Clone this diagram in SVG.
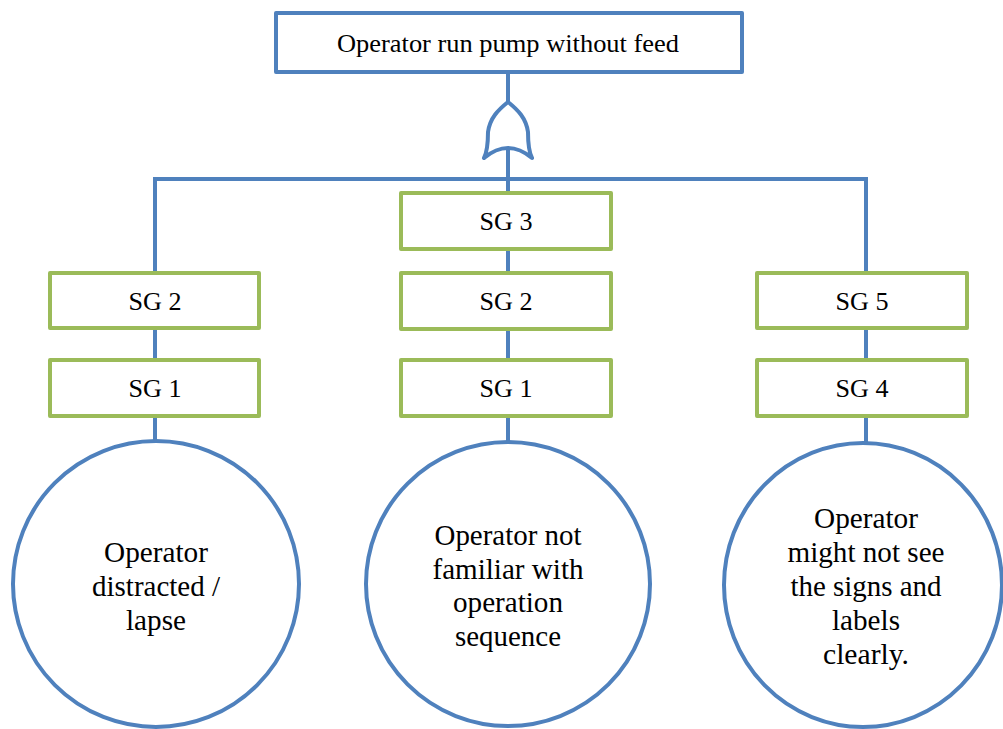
<svg xmlns="http://www.w3.org/2000/svg" width="1003" height="729" viewBox="0 0 1003 729">
<style>
.blue{fill:#fff;stroke:#4F81BD;stroke-width:4;stroke-linejoin:round}
.green{fill:#fff;stroke:#9BBB59;stroke-width:4;stroke-linejoin:round}
.line{fill:none;stroke:#4F81BD;stroke-width:4;stroke-linecap:butt}
.gate{fill:none;stroke:#4F81BD;stroke-width:4;stroke-linecap:round;stroke-linejoin:round}
text{font-family:'Liberation Serif','DejaVu Serif','Times New Roman',serif;text-anchor:middle;fill:#000}
.t26{font-size:26px}
.t29{font-size:29px}
</style>
<rect width="1003" height="729" fill="#fff"/>
<g id="connectors">
<line class="line" x1="508" y1="72" x2="508" y2="102"/>
<line class="line" x1="508" y1="148" x2="508" y2="193"/>
<polyline class="line" points="155,272 155,179 866,179 866,272"/>
<line class="line" x1="155" y1="328" x2="155" y2="359"/>
<line class="line" x1="155" y1="416" x2="155" y2="441"/>
<line class="line" x1="508" y1="250" x2="508" y2="272"/>
<line class="line" x1="508" y1="329" x2="508" y2="359"/>
<line class="line" x1="508" y1="417" x2="508" y2="442"/>
<line class="line" x1="866" y1="329" x2="866" y2="359"/>
<line class="line" x1="866" y1="416" x2="866" y2="442"/>
</g>
<g id="top">
<rect class="blue" x="276" y="13" width="466" height="59"/>
<text class="t26" x="508" y="52" textLength="342" lengthAdjust="spacingAndGlyphs">Operator run pump without feed</text>
</g>
<g id="or-gate">
<path class="gate" d="M484,158 C487,152 488,142 488,132 C490,118 498,110 508,102 C518,110 526,118 528,132 C528,142 529,152 532,158 Q508,138 484,158"/>
</g>
<g id="left-sg2">
<rect class="green" x="50" y="273" width="209" height="55"/>
<text class="t26" x="155" y="310" textLength="53" lengthAdjust="spacingAndGlyphs">SG 2</text>
</g>
<g id="left-sg1">
<rect class="green" x="50" y="360" width="209" height="56"/>
<text class="t26" x="155" y="397" textLength="53" lengthAdjust="spacingAndGlyphs">SG 1</text>
</g>
<g id="mid-sg3">
<rect class="green" x="401" y="193" width="210" height="56"/>
<text class="t26" x="506" y="230" textLength="53" lengthAdjust="spacingAndGlyphs">SG 3</text>
</g>
<g id="mid-sg2">
<rect class="green" x="401" y="273" width="210" height="56"/>
<text class="t26" x="506" y="310" textLength="53" lengthAdjust="spacingAndGlyphs">SG 2</text>
</g>
<g id="mid-sg1">
<rect class="green" x="401" y="360" width="210" height="56"/>
<text class="t26" x="506" y="397" textLength="53" lengthAdjust="spacingAndGlyphs">SG 1</text>
</g>
<g id="right-sg5">
<rect class="green" x="757" y="273" width="210" height="55"/>
<text class="t26" x="862" y="310" textLength="53" lengthAdjust="spacingAndGlyphs">SG 5</text>
</g>
<g id="right-sg4">
<rect class="green" x="757" y="360" width="210" height="56"/>
<text class="t26" x="862" y="397" textLength="53" lengthAdjust="spacingAndGlyphs">SG 4</text>
</g>
<g id="event-left">
<ellipse class="blue" cx="156" cy="584" rx="143" ry="143"/>
<text class="t29" x="156" y="562" textLength="104" lengthAdjust="spacingAndGlyphs">Operator</text>
<text class="t29" x="156" y="596" textLength="128" lengthAdjust="spacingAndGlyphs">distracted /</text>
<text class="t29" x="156" y="630" textLength="60" lengthAdjust="spacingAndGlyphs">lapse</text>
</g>
<g id="event-middle">
<ellipse class="blue" cx="508" cy="584" rx="142" ry="142"/>
<text class="t29" x="508" y="545" textLength="147" lengthAdjust="spacingAndGlyphs">Operator not</text>
<text class="t29" x="508" y="579" textLength="151" lengthAdjust="spacingAndGlyphs">familiar with</text>
<text class="t29" x="508" y="612" textLength="110" lengthAdjust="spacingAndGlyphs">operation</text>
<text class="t29" x="508" y="646" textLength="106" lengthAdjust="spacingAndGlyphs">sequence</text>
</g>
<g id="event-right">
<ellipse class="blue" cx="863" cy="585" rx="139" ry="142"/>
<text class="t29" x="866" y="528" textLength="104" lengthAdjust="spacingAndGlyphs">Operator</text>
<text class="t29" x="866" y="562" textLength="157" lengthAdjust="spacingAndGlyphs">might not see</text>
<text class="t29" x="866" y="596" textLength="151" lengthAdjust="spacingAndGlyphs">the signs and</text>
<text class="t29" x="866" y="630" textLength="68" lengthAdjust="spacingAndGlyphs">labels</text>
<text class="t29" x="866" y="664" textLength="86" lengthAdjust="spacingAndGlyphs">clearly.</text>
</g>
</svg>
